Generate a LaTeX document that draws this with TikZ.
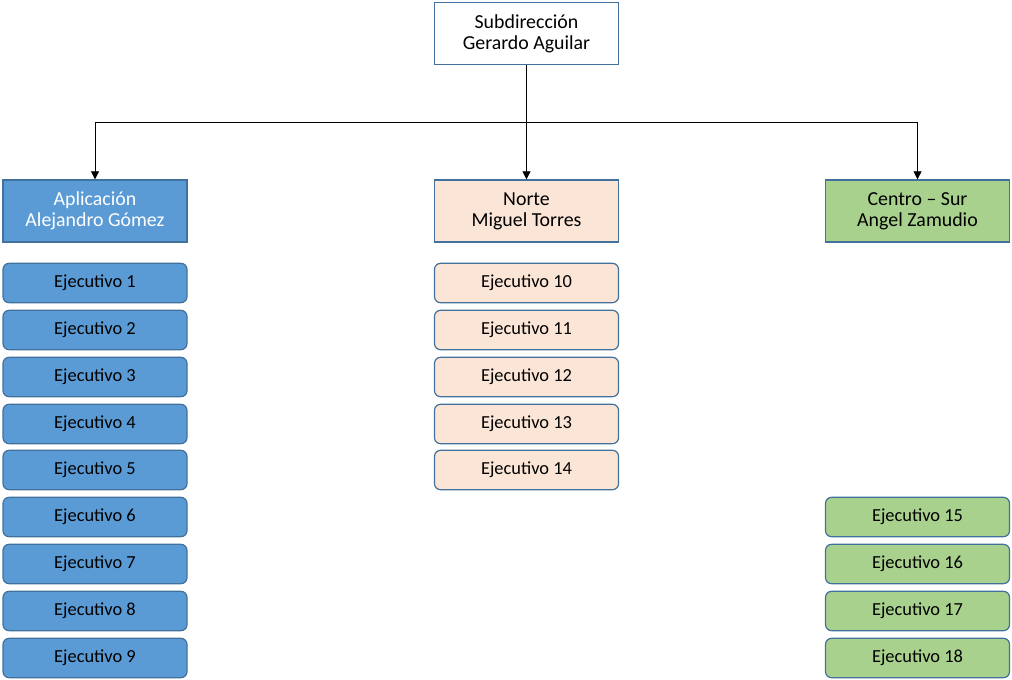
\documentclass[tikz,border=0pt]{standalone}
\usepackage{fontspec}
\setmainfont{Carlito}
\usetikzlibrary{arrows.meta}
\definecolor{bord}{HTML}{41719C}
\definecolor{bluef}{HTML}{5B9BD5}
\definecolor{peachf}{HTML}{FBE5D6}
\definecolor{greenf}{HTML}{A9D18E}
\tikzset{
  hdr/.style={draw=bord, line width=1pt, minimum width=138pt, minimum height=46.5pt, inner sep=0pt, align=center, font=\fontsize{14.9}{15.8}\selectfont},
  ej/.style={draw=bord, line width=0.9pt, rounded corners=4.5pt, minimum width=138pt, minimum height=29.5pt, inner sep=0pt, font=\fontsize{13.8}{15}\selectfont},
  conn/.style={draw=black, line width=0.6pt},
  arr/.style={conn, -{Triangle[width=6pt,length=6pt]}}
}
\begin{document}
\begin{tikzpicture}[x=0.75pt,y=-0.75pt]
\useasboundingbox (0,0) rectangle (1012,679);
\node[hdr, fill=white] (top) at (526.5,33.5) {Subdirección\\Gerardo Aguilar};
\node[hdr, fill=bluef, text=white] (apl) at (95,211) {Aplicación\\Alejandro Gómez};
\node[hdr, fill=peachf] (nor) at (526.5,211) {Norte\\Miguel Torres};
\node[hdr, fill=greenf] (cen) at (917.5,211) {Centro – Sur\\Angel Zamudio};
\coordinate (j) at (526.5,122);
\coordinate (jl) at (95,122);
\coordinate (jr) at (917.5,122);
\draw[conn] (top.south) -- (j);
\draw[conn] (jl) -- (jr);
\draw[arr] (jl) -- (apl.north);
\draw[arr] (j) -- (nor.north);
\draw[arr] (jr) -- (cen.north);
\foreach \i/\y in {1/283,2/330,3/377,4/424,5/470,6/517,7/564,8/611,9/658}{
  \node[ej, fill=bluef] (e\i) at (95,\y) {Ejecutivo \i};
}
\foreach \i/\y in {10/283,11/330,12/377,13/424,14/470}{
  \node[ej, fill=peachf] (e\i) at (526.5,\y) {Ejecutivo \i};
}
\foreach \i/\y in {15/517,16/564,17/611,18/658}{
  \node[ej, fill=greenf] (e\i) at (917.5,\y) {Ejecutivo \i};
}
\end{tikzpicture}
\end{document}
